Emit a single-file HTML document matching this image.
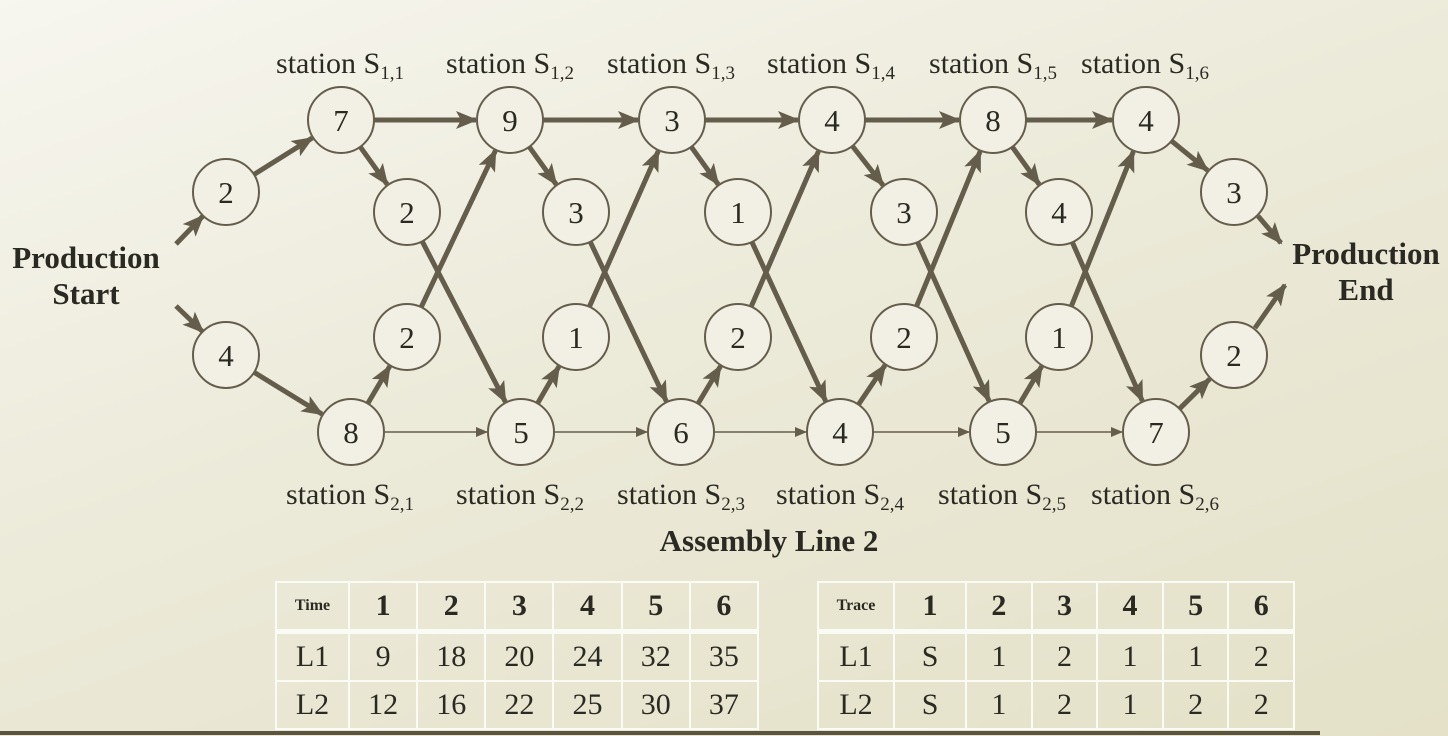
<!DOCTYPE html>
<html><head><meta charset="utf-8"><style>
html,body{margin:0;padding:0}
body{width:1448px;height:736px;overflow:hidden;background:linear-gradient(160deg,#f7f6ef 0%,#ecead9 45%,#e4e1c8 100%);font-family:"Liberation Serif",serif;position:relative}
svg{position:absolute;left:0;top:0}
table{position:absolute;border-collapse:collapse;color:#2b2a22}
td{border:2px solid #fbfbf5;text-align:center;font-size:30px;padding:0;height:46px}
tr.h td{font-weight:bold;font-size:30px;border-bottom:5px solid #fbfbf5}
tr.h td.s{font-size:16px}
</style></head><body>
<svg id="g" width="1448" height="736" xmlns="http://www.w3.org/2000/svg">
<defs>
<marker id="a" markerUnits="userSpaceOnUse" markerWidth="22" markerHeight="18" refX="20" refY="9" orient="auto"><path d="M0,0 L22,9 L0,18 L5,9 Z" fill="#655d4c"/></marker>
<marker id="b" markerUnits="userSpaceOnUse" markerWidth="12" markerHeight="10" refX="11" refY="5" orient="auto"><path d="M0,0 L12,5 L0,10 Z" fill="#655d4c"/></marker>
</defs>
<g id="e"></g><g id="n"></g>
<g font-family="Liberation Serif, serif" fill="#2b2a22" font-size="30">
<text x="340" y="73" text-anchor="middle">station S<tspan font-size="19" dy="6">1,1</tspan></text>
<text x="510" y="73" text-anchor="middle">station S<tspan font-size="19" dy="6">1,2</tspan></text>
<text x="671" y="73" text-anchor="middle">station S<tspan font-size="19" dy="6">1,3</tspan></text>
<text x="831" y="73" text-anchor="middle">station S<tspan font-size="19" dy="6">1,4</tspan></text>
<text x="993" y="73" text-anchor="middle">station S<tspan font-size="19" dy="6">1,5</tspan></text>
<text x="1145" y="73" text-anchor="middle">station S<tspan font-size="19" dy="6">1,6</tspan></text>
<text x="350" y="504" text-anchor="middle">station S<tspan font-size="19" dy="6">2,1</tspan></text>
<text x="520" y="504" text-anchor="middle">station S<tspan font-size="19" dy="6">2,2</tspan></text>
<text x="681" y="504" text-anchor="middle">station S<tspan font-size="19" dy="6">2,3</tspan></text>
<text x="840" y="504" text-anchor="middle">station S<tspan font-size="19" dy="6">2,4</tspan></text>
<text x="1002" y="504" text-anchor="middle">station S<tspan font-size="19" dy="6">2,5</tspan></text>
<text x="1155" y="504" text-anchor="middle">station S<tspan font-size="19" dy="6">2,6</tspan></text>
<g font-weight="bold" font-size="31" text-anchor="middle">
<text x="86" y="268">Production</text><text x="86" y="304">Start</text>
<text x="1366" y="264">Production</text><text x="1366" y="300">End</text>
<text x="769" y="551">Assembly Line 2</text>
</g></g>
<rect x="0" y="731" width="1320" height="4" fill="#5a5440"/>
</svg>
<table style="left:275px;top:581px;width:484px">
<tr class="h"><td class="s" style="width:71px">Time</td><td>1</td><td>2</td><td>3</td><td>4</td><td>5</td><td>6</td></tr>
<tr><td>L1</td><td>9</td><td>18</td><td>20</td><td>24</td><td>32</td><td>35</td></tr>
<tr><td>L2</td><td>12</td><td>16</td><td>22</td><td>25</td><td>30</td><td>37</td></tr>
</table>
<table style="left:817px;top:581px;width:478px">
<tr class="h"><td class="s" style="width:74px">Trace</td><td>1</td><td>2</td><td>3</td><td>4</td><td>5</td><td>6</td></tr>
<tr><td>L1</td><td>S</td><td>1</td><td>2</td><td>1</td><td>1</td><td>2</td></tr>
<tr><td>L2</td><td>S</td><td>1</td><td>2</td><td>1</td><td>2</td><td>2</td></tr>
</table>
<script>
var NS="http://www.w3.org/2000/svg",E=document.getElementById('e'),N=document.getElementById('n'),R=33;
var T=[[341,120,7],[510,120,9],[672,120,3],[832,120,4],[993,120,8],[1146,120,4]];
var B=[[351,432,8],[521,432,5],[681,432,6],[840,432,4],[1003,432,5],[1156,432,7]];
var U=[[407,212,2],[576,212,3],[738,212,1],[904,212,3],[1059,212,4]];
var D=[[407,337,2],[576,337,1],[738,337,2],[904,337,2],[1059,337,1]];
var S1=[226,192,2],S2=[226,355,4],E1=[1234,192,3],E2=[1234,355,2];
function ln(x1,y1,x2,y2,thin){var l=document.createElementNS(NS,'line');l.setAttribute('x1',x1);l.setAttribute('y1',y1);l.setAttribute('x2',x2);l.setAttribute('y2',y2);l.setAttribute('stroke','#655d4c');l.setAttribute('stroke-width',thin?1.6:5);l.setAttribute('marker-end',thin?'url(#b)':'url(#a)');E.appendChild(l);}
function ed(a,b,thin){var dx=b[0]-a[0],dy=b[1]-a[1],d=Math.hypot(dx,dy),ux=dx/d,uy=dy/d;ln(a[0]+ux*R,a[1]+uy*R,b[0]-ux*(R+1),b[1]-uy*(R+1),thin);}
function nd(p){var c=document.createElementNS(NS,'circle');c.setAttribute('cx',p[0]);c.setAttribute('cy',p[1]);c.setAttribute('r',R);c.setAttribute('fill','#f2f0e4');c.setAttribute('stroke','#655d4c');c.setAttribute('stroke-width',2);N.appendChild(c);var t=document.createElementNS(NS,'text');t.setAttribute('x',p[0]);t.setAttribute('y',p[1]+11);t.setAttribute('text-anchor','middle');t.setAttribute('font-size','31');t.setAttribute('font-family','Liberation Serif, serif');t.setAttribute('fill','#2b2a22');t.textContent=p[2];N.appendChild(t);}
ln(176,244,203,216);ln(176,306,203,332);
ed(S1,T[0]);ed(S2,B[0]);
for(var i=0;i<5;i++){ed(T[i],T[i+1]);ed(B[i],B[i+1],true);ed(T[i],U[i]);ed(U[i],B[i+1]);ed(B[i],D[i]);ed(D[i],T[i+1]);}
ed(T[5],E1);ed(B[5],E2);
ln(1258,216,1281,243);ln(1255,328,1285,285);
[S1,S2,E1,E2].concat(T,B,U,D).forEach(nd);
</script>
</body></html>
